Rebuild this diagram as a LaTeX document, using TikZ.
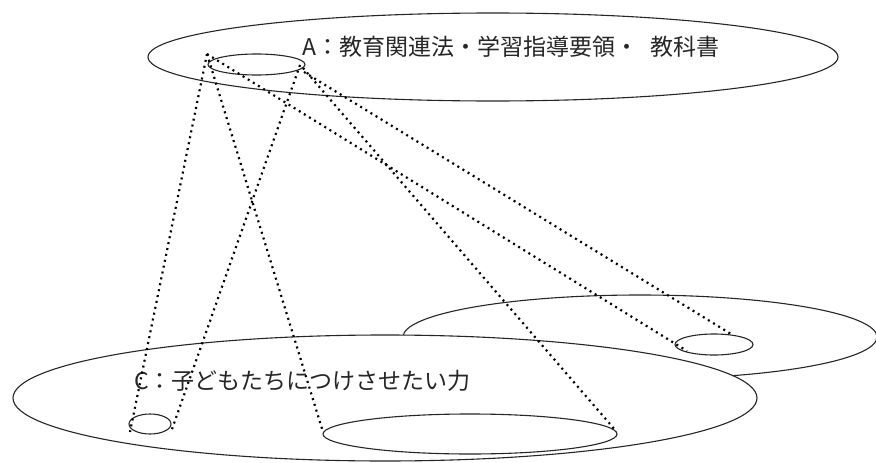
\documentclass[tikz,border=0pt]{standalone}
\usepackage{fontspec}
\newfontfamily\jpfont{Noto Sans CJK JP}
\usetikzlibrary{shapes.geometric}
\begin{document}
\begin{tikzpicture}[x=1pt,y=-1pt,
  oval/.style={draw=black!85,line width=1.1pt,ellipse,inner sep=0pt,fill=white},
  dotline/.style={draw=black,line width=2.2pt,line cap=butt,dash pattern=on 2pt off 4pt},
  lbl/.style={font=\jpfont\fontsize{23}{26}\selectfont,anchor=west,inner sep=0pt,text=black!85}]
\useasboundingbox (0,0) rectangle (876,463);
% ellipses
\node[oval,minimum width=690pt,minimum height=88pt] (A) at (493,57) {};
\node[oval,minimum width=97pt,minimum height=21pt] (As) at (256.5,64.5) {};
\node[oval,minimum width=474pt,minimum height=84pt] (B) at (640,337) {};
\node[oval,minimum width=78pt,minimum height=21pt] (Bs) at (714,344.5) {};
\node[oval,minimum width=744pt,minimum height=126pt] (C) at (385,398) {};
\node[oval,minimum width=42pt,minimum height=20pt] (C1) at (150,424) {};
\node[oval,minimum width=294pt,minimum height=40pt] (C2) at (470,434) {};
% labels
\node[lbl] (ta) at (302,47) {A：教育関連法・学習指導要領・\hspace{12pt}教科書};
\node[lbl] (tc) at (134,381) {C：子どもたちにつけさせたい力};
% connector ends
\coordinate (p) at (207,54);
\coordinate (q1) at (300,65);
\coordinate (q2) at (303,68);
\coordinate (q3) at (304,72);
\coordinate (c1l) at (130,432);
\coordinate (c1r) at (171,432);
\coordinate (c2l) at (323,432);
\coordinate (c2r) at (616,431);
\coordinate (bl) at (687,351);
\coordinate (br) at (731,334);
% dotted connectors
\draw[dotline] (p) -- (c1l);
\draw[dotline] (p) -- (c2l);
\draw[dotline] (p) -- (bl);
\draw[dotline] (q1) -- (c1r);
\draw[dotline] (q2) -- (c2r);
\draw[dotline] (q3) -- (br);
\end{tikzpicture}
\end{document}
